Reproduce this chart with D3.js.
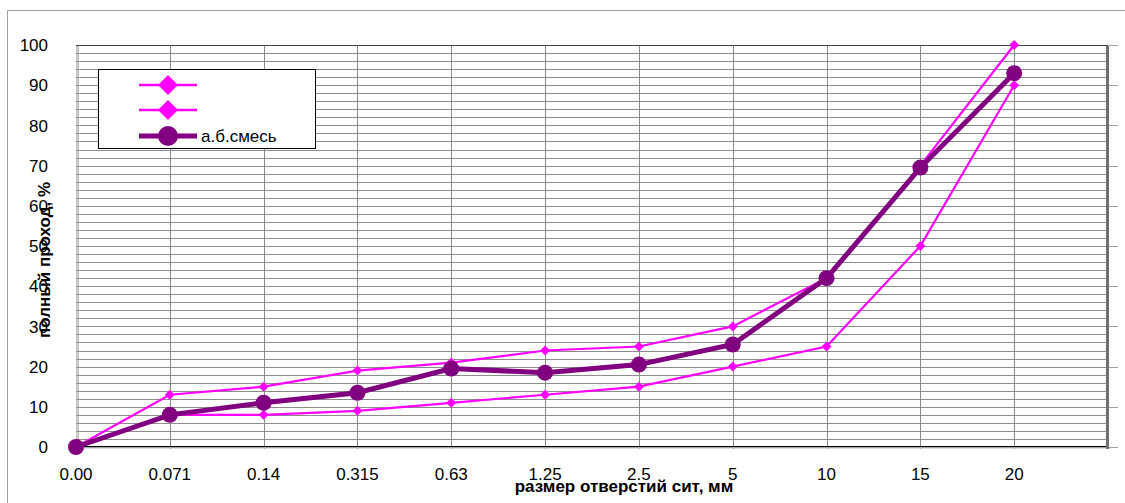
<!DOCTYPE html>
<html>
<head>
<meta charset="utf-8">
<script src="https://cdn.jsdelivr.net/npm/d3@7"></script>
<style>
  body { margin: 0; background: #fff; }
  svg { display: block; font-family: Arial, "Liberation Sans", sans-serif; }
</style>
</head>
<body>
<svg></svg>
<script>
// sieve sizes, mm (last slot is an empty category so the axis runs on past 20)
let sieves = ['0.00', '0.071', '0.14', '0.315', '0.63', '1.25', '2.5', '5', '10', '15', '20', '']
// upper and lower limits of the grading band, and the mix itself
let upperLimit = [0, 13, 15, 19, 21, 24, 25, 30, 42, 70, 100]
let lowerLimit = [0, 8, 8, 9, 11, 13, 15, 20, 25, 50, 90]
let mixValues = [0, 8, 11, 13.5, 19.5, 18.5, 20.5, 25.5, 42, 69.5, 93]
let yTicks = [0, 10, 20, 30, 40, 50, 60, 70, 80, 90, 100]
let yGrid = d3.range(0, 101, 2)

let width = 1125
let height = 503
let plotLeft = 76, plotRight = 1108, plotTop = 45, plotBottom = 447
let fontSize = 17

let pink = '#ff00ff'
let purple = '#800080'

let svg = d3.select('svg')
svg.attr('width', width).attr('height', height)

// outer chart frame
svg.append('line').attr('x1', 7).attr('x2', width).attr('y1', 10.5).attr('y2', 10.5)
    .attr('stroke', '#a0a0a0')
svg.append('line').attr('x1', 7.5).attr('x2', 7.5).attr('y1', 10).attr('y2', height)
    .attr('stroke', '#a0a0a0')

let xScale = d3.scalePoint().domain(sieves).range([plotLeft, plotRight])
let yScale = d3.scaleLinear().domain([0, 100]).range([plotBottom, plotTop])

// left wall strip
svg.append('rect').attr('x', plotLeft).attr('y', plotTop).attr('width', 3).attr('height', plotBottom - plotTop)
    .attr('fill', '#c8c8c8')

// horizontal grid
svg.selectAll('.hgrid')
    .data(yGrid)
    .enter()
    .append('line')
    .attr('class', 'hgrid')
    .attr('x1', plotLeft).attr('x2', plotRight)
    .attr('y1', (d) => Math.round(yScale(d)) + 0.5)
    .attr('y2', (d) => Math.round(yScale(d)) + 0.5)
    .attr('stroke', '#8c8c8c')
    .attr('stroke-width', 1)

// vertical grid
svg.selectAll('.vgrid')
    .data(sieves.slice(1, 11))
    .enter()
    .append('line')
    .attr('class', 'vgrid')
    .attr('x1', (d) => Math.round(xScale(d)) + 0.5)
    .attr('x2', (d) => Math.round(xScale(d)) + 0.5)
    .attr('y1', plotTop).attr('y2', plotBottom + 2)
    .attr('stroke', '#8c8c8c')

// plot frame: dark top and bottom, shadow on the right
svg.append('line').attr('x1', plotLeft).attr('x2', plotRight).attr('y1', plotTop + 0.5).attr('y2', plotTop + 0.5)
    .attr('stroke', '#404040')
svg.append('line').attr('x1', plotLeft).attr('x2', plotRight).attr('y1', plotBottom - 0.5).attr('y2', plotBottom - 0.5)
    .attr('stroke', '#000')
svg.append('line').attr('x1', plotLeft).attr('x2', plotRight + 3).attr('y1', plotBottom + 1).attr('y2', plotBottom + 1)
    .attr('stroke', '#c0c0c0')
svg.append('rect').attr('x', plotRight - 2).attr('y', plotTop + 1).attr('width', 3).attr('height', plotBottom - plotTop + 1)
    .attr('fill', '#707070')

// small ticks right of the plot
svg.selectAll('.rtick')
    .data(yTicks)
    .enter()
    .append('line')
    .attr('x1', plotRight + 1).attr('x2', plotRight + 10)
    .attr('y1', (d) => Math.round(yScale(d)) + 0.5)
    .attr('y2', (d) => Math.round(yScale(d)) + 0.5)
    .attr('stroke', '#a0a0a0')

// y labels
svg.selectAll('.ylab')
    .data(yTicks)
    .enter()
    .append('text')
    .attr('x', 48)
    .attr('y', (d) => yScale(d))
    .attr('dy', '0.36em')
    .attr('text-anchor', 'end')
    .attr('font-size', fontSize)
    .attr('fill', '#000')
    .text((d) => d)

// x labels
svg.selectAll('.xlab')
    .data(sieves.slice(0, 11))
    .enter()
    .append('text')
    .attr('x', (d) => xScale(d))
    .attr('y', 480)
    .attr('text-anchor', 'middle')
    .attr('font-size', fontSize)
    .attr('fill', '#000')
    .text((d) => d)

// axis titles
svg.append('text')
    .attr('x', 624).attr('y', 492)
    .attr('text-anchor', 'middle')
    .attr('font-size', fontSize).attr('font-weight', 'bold')
    .text('размер отверстий сит, мм')

svg.append('text')
    .attr('transform', 'translate(50,260) rotate(-90)')
    .attr('text-anchor', 'middle')
    .attr('font-size', fontSize).attr('font-weight', 'bold')
    .text('полный проход, %')

let line = d3.line()
    .x((d, i) => xScale(sieves[i]))
    .y((d) => yScale(d))

let diamond = (size) => 'M0,' + (-size) + 'L' + size + ',0L0,' + size + 'L' + (-size) + ',0Z'

let drawDiamondSeries = (values) => {
    svg.append('path')
        .datum(values)
        .attr('d', line)
        .attr('fill', 'none')
        .attr('stroke', pink)
        .attr('stroke-width', 2.2)
    svg.append('g').selectAll('path')
        .data(values)
        .enter()
        .append('path')
        .attr('d', diamond(5))
        .attr('transform', (d, i) => 'translate(' + xScale(sieves[i]) + ',' + yScale(d) + ')')
        .attr('fill', pink)
}

drawDiamondSeries(upperLimit)
drawDiamondSeries(lowerLimit)

svg.append('path')
    .datum(mixValues)
    .attr('d', line)
    .attr('fill', 'none')
    .attr('stroke', purple)
    .attr('stroke-width', 5)
svg.append('g').selectAll('circle')
    .data(mixValues)
    .enter()
    .append('circle')
    .attr('cx', (d, i) => xScale(sieves[i]))
    .attr('cy', (d) => yScale(d))
    .attr('r', 8)
    .attr('fill', purple)

// legend
let legend = svg.append('g')
legend.append('rect')
    .attr('x', 98.5).attr('y', 69.5).attr('width', 217).attr('height', 79)
    .attr('fill', '#fff').attr('stroke', '#000')

let legendRows = [
    {y: 85, color: pink, width: 2.5, shape: 'diamond', label: ''},
    {y: 110, color: pink, width: 2.5, shape: 'diamond', label: ''},
    {y: 136, color: purple, width: 5, shape: 'circle', label: 'а.б.смесь'}
]
legendRows.forEach((row) => {
    legend.append('line')
        .attr('x1', 139).attr('x2', 197).attr('y1', row.y).attr('y2', row.y)
        .attr('stroke', row.color).attr('stroke-width', row.width)
    if (row.shape == 'diamond') {
        legend.append('path')
            .attr('d', diamond(10))
            .attr('transform', 'translate(168,' + row.y + ')')
            .attr('fill', row.color)
    } else {
        legend.append('circle')
            .attr('cx', 168).attr('cy', row.y).attr('r', 10)
            .attr('fill', row.color)
    }
    legend.append('text')
        .attr('x', 201).attr('y', row.y + 6)
        .attr('font-size', fontSize)
        .text(row.label)
})
</script>
</body>
</html>
